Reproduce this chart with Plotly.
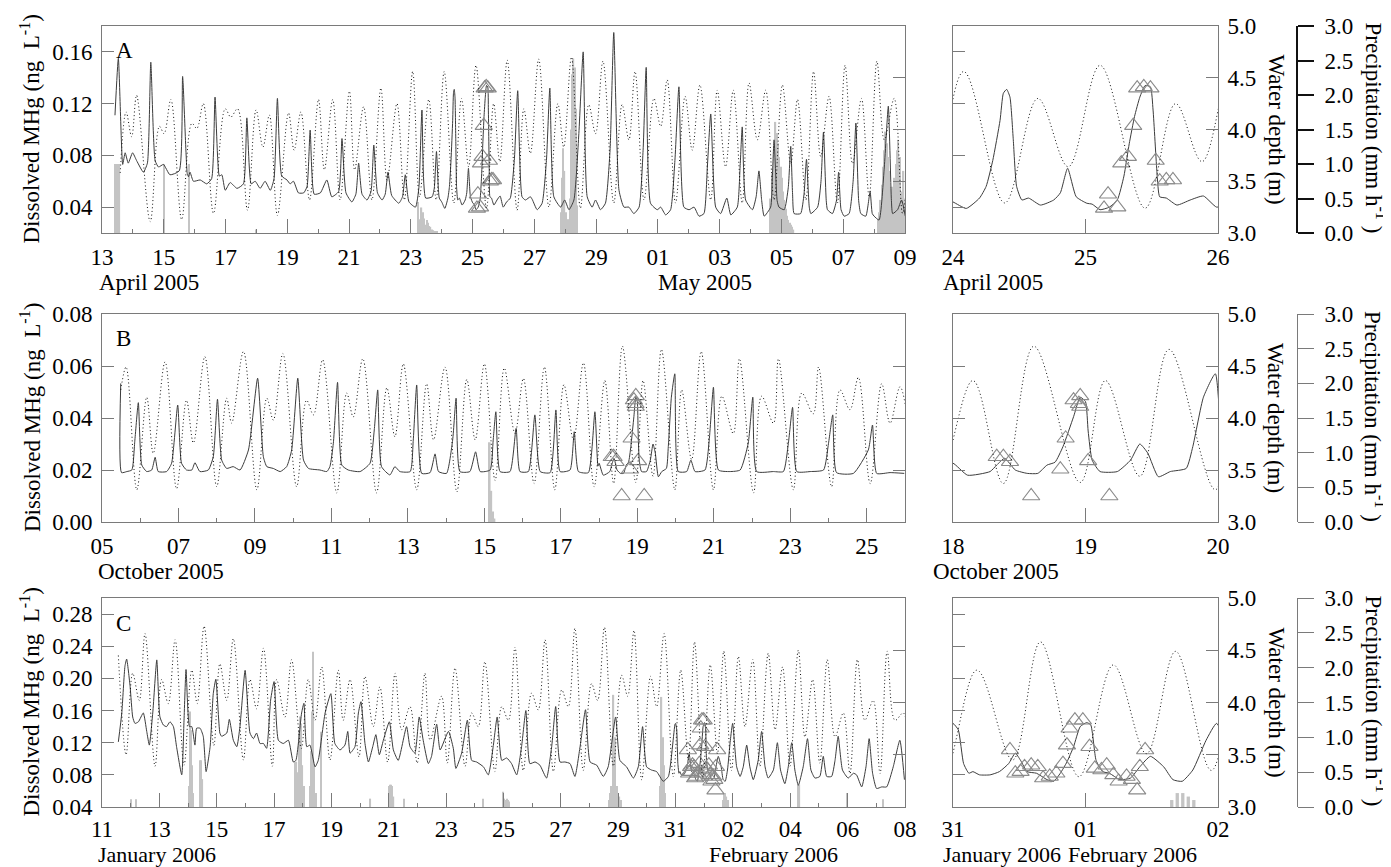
import plotly.graph_objects as go
from datetime import datetime, timedelta

# ================= DATA =================
# Day numbers are counted from the 1st of the first month of each panel
# (A: 1 April 2005, 31 = 1 May; B: 1 October 2005; C: 1 January 2006, 32 = 1 Feb)

# ---- Panel A ----
A_mhg = [(13.42,0.111),(13.53,0.155),(13.67,0.073),(13.75,0.082),(13.85,0.074),(13.99,0.082),(14.12,0.076),
 (14.34,0.067),(14.47,0.074),(14.58,0.152),(14.72,0.076),(14.83,0.071),(14.99,0.073),(15.20,0.065),(15.50,0.068),
 (15.61,0.141),(15.76,0.066),(15.80,0.0635),(15.85,0.067),(15.96,0.060),(16.18,0.061),(16.39,0.058),(16.55,0.062),
 (16.66,0.125),(16.80,0.064),(16.88,0.065),(16.99,0.053),(17.15,0.059),(17.37,0.0545),(17.58,0.058),(17.69,0.109),
 (17.83,0.058),(17.96,0.060),(18.12,0.0545),(18.28,0.060),(18.45,0.053),(18.57,0.062),(18.68,0.124),(18.82,0.064),
 (18.99,0.061),(19.09,0.058),(19.20,0.060),(19.36,0.051),(19.53,0.051),(19.64,0.056),(19.74,0.0996),(19.87,0.050),
 (20.07,0.051),(20.28,0.061),(20.44,0.048),(20.66,0.052),(20.77,0.093),(20.90,0.051),(21.09,0.044),(21.22,0.050),
 (21.31,0.074),(21.42,0.050),(21.58,0.0455),(21.71,0.052),(21.80,0.088),(21.92,0.051),(22.07,0.0455),(22.17,0.050),
 (22.26,0.067),(22.38,0.049),(22.61,0.043),(22.73,0.048),(22.82,0.065),(22.94,0.044),(23.15,0.040),(23.26,0.055),
 (23.36,0.115),(23.48,0.047),(23.69,0.048),(23.76,0.055),(23.83,0.083),(23.92,0.047),(24.00,0.044),(24.10,0.039),
 (24.20,0.047),(24.25,0.056),(24.30,0.076),(24.355,0.107),(24.38,0.128),(24.405,0.131),(24.43,0.125),(24.455,0.092),
 (24.48,0.056),(24.52,0.0455),(24.57,0.047),(24.66,0.0416),(24.76,0.0455),(24.81,0.051),(24.865,0.070),(24.93,0.048),
 (25.01,0.043),(25.05,0.0423),(25.11,0.038),(25.18,0.040),(25.24,0.0455),(25.29,0.064),(25.33,0.089),(25.37,0.110),
 (25.41,0.125),(25.45,0.134),(25.49,0.133),(25.51,0.115),(25.54,0.066),(25.56,0.048),(25.61,0.047),(25.69,0.0416),
 (25.79,0.0455),(25.89,0.0486),(25.99,0.040),(26.10,0.044),(26.22,0.047),(26.35,0.076),(26.46,0.130),(26.60,0.048),
 (26.71,0.0455),(26.87,0.048),(26.93,0.046),(27.09,0.038),(27.25,0.043),(27.39,0.076),(27.50,0.132),(27.63,0.048),
 (27.85,0.040),(27.98,0.0455),(28.12,0.038),(28.28,0.0455),(28.44,0.097),(28.58,0.160),(28.71,0.048),(28.87,0.040),
 (28.98,0.0455),(29.14,0.038),(29.30,0.043),(29.45,0.084),(29.57,0.175),(29.74,0.053),(29.90,0.040),(30.06,0.040),
 (30.22,0.035),(30.39,0.040),(30.52,0.084),(30.62,0.148),(30.76,0.043),(30.98,0.038),(31.09,0.040),(31.25,0.034),
 (31.41,0.038),(31.55,0.076),(31.68,0.133),(31.84,0.040),(32.01,0.038),(32.17,0.040),(32.33,0.033),(32.49,0.035),
 (32.60,0.071),(32.71,0.112),(32.87,0.040),(33.03,0.035),(33.23,0.047),(33.36,0.034),(33.57,0.040),(33.66,0.071),
 (33.73,0.102),(33.84,0.0455),(34.06,0.038),(34.18,0.048),(34.27,0.068),(34.36,0.045),(34.44,0.033),(34.65,0.040),
 (34.70,0.060),(34.76,0.092),(34.86,0.045),(34.92,0.040),(35.09,0.038),(35.22,0.055),(35.30,0.087),(35.36,0.050),
 (35.41,0.035),(35.62,0.035),(35.73,0.050),(35.81,0.077),(35.90,0.040),(35.95,0.035),(36.17,0.040),(36.28,0.060),
 (36.36,0.098),(36.45,0.045),(36.49,0.038),(36.65,0.035),(36.78,0.045),(36.85,0.067),(36.93,0.038),(37.03,0.033),
 (37.19,0.035),(37.32,0.060),(37.41,0.105),(37.50,0.045),(37.57,0.035),(37.73,0.033),(37.87,0.052),(37.94,0.035),
 (38.00,0.033),(38.16,0.030),(38.33,0.071),(38.46,0.118),(38.56,0.045),(38.60,0.035),(38.76,0.038),(38.89,0.0455),
 (39.01,0.033)]
A_tri = [(25.14,0.039),(25.17,0.050),(25.24,0.040),(25.27,0.074),(25.32,0.079),(25.36,0.103),(25.39,0.132),
 (25.44,0.133),(25.49,0.132),(25.53,0.076),(25.56,0.060),(25.61,0.061),(25.66,0.061)]
A_tide = [(13.59,3.58),(13.78,4.17),(13.96,3.93),(14.12,4.33),(14.56,3.11),(14.86,4.03),(15.01,3.96),(15.23,4.29),
 (15.58,3.13),(15.91,4.06),(16.07,4.01),(16.28,4.25),(16.61,3.19),(16.99,4.20),(17.17,4.12),(17.39,4.20),(17.71,3.22),
 (17.99,4.19),(18.21,3.83),(18.42,4.14),(18.68,3.17),(19.04,4.16),(19.22,3.80),(19.44,4.17),(19.72,3.32),(20.01,4.29),
 (20.20,3.61),(20.47,4.29),(20.71,3.32),(21.01,4.37),(21.18,3.61),(21.47,4.22),(21.74,3.32),(22.03,4.40),(22.23,3.51),
 (22.55,4.25),(22.79,3.32),(23.06,4.56),(23.28,3.35),(23.58,4.29),(23.82,3.32),(24.08,4.56),(24.39,3.29),(24.64,4.30),
 (24.87,3.64),(25.11,4.62),(25.45,3.24),(25.68,4.25),(25.88,3.69),(26.12,4.67),(26.44,3.22),(26.66,4.20),(26.87,3.77),
 (27.14,4.68),(27.47,3.25),(27.76,4.25),(27.95,3.83),(28.20,4.70),(28.49,3.24),(28.76,4.24),(28.98,3.96),(29.22,4.66),
 (29.57,3.29),(29.84,4.24),(30.06,3.90),(30.26,4.56),(30.55,3.32),(30.87,4.30),(31.09,4.03),(31.30,4.48),(31.57,3.29),
 (31.88,4.32),(32.11,3.80),(32.36,4.43),(32.71,3.32),(32.92,4.38),(33.19,3.64),(33.44,4.38),(33.73,3.29),(33.95,4.45),
 (34.22,3.90),(34.49,4.38),(34.76,3.32),(35.03,4.43),(35.30,3.67),(35.52,4.29),(35.79,3.32),(36.04,4.56),(36.27,3.74),
 (36.54,4.32),(36.81,3.29),(37.06,4.62),(37.30,3.67),(37.59,4.30),(37.84,3.35),(38.09,4.66),(38.33,3.90),(38.65,4.30),
 (38.92,3.19),(39.10,3.60)]
A_rain_start = [13.42, 14.99, 15.80, 17.96, 23.20, 27.83, 34.62, 38.10]
A_rain_vals = [
 [1.0, 1.0, 1.0, 1.0],
 [1.0],
 [1.0],
 [0.05],
 [0.45, 0.2, 0.15, 0.37, 0.3, 0.21, 0.12, 0.19, 0.15, 0.1, 0.09, 0.05, 0.04, 0.03, 0.02, 0.02],
 [0.3, 0.8, 1.23, 0.9, 0.3, 0.1, 0.2, 0.5, 1.5, 2.3, 2.53, 2.4, 1.8, 0.4],
 [0.5, 0.86, 0.9, 1.2, 1.61, 1.45, 1.3, 1.1, 0.96, 0.8, 0.6, 0.48, 0.35, 0.25, 0.19, 0.15, 0.12, 0.09, 0.05],
 [0.19, 0.3, 0.48, 0.7, 0.96, 1.2, 1.47, 1.3, 1.1, 0.9, 0.67, 0.6, 0.67, 0.8, 1.0, 1.2, 1.35, 1.1, 0.6, 0.24, 0.9, 0.5]]
A_mhg_ticks = [0.04, 0.08, 0.12, 0.16]
A_tick_day = [13, 15, 17, 19, 21, 23, 25, 27, 29, 31, 33, 35, 37, 39]
A_tick_lbl = ['13', '15', '17', '19', '21', '23', '25', '27', '29', '01', '03', '05', '07', '09']
A_ztick_day = [24, 25, 26]
A_ztick_lbl = ['24', '25', '26']

# ---- Panel B ----
B_mhg = [(5.49,0.0533),(5.51,0.019),(5.65,0.0194),(5.78,0.020),(5.86,0.0315),(5.95,0.0459),(6.04,0.0219),
 (6.17,0.0194),(6.30,0.020),(6.39,0.0249),(6.47,0.0194),(6.69,0.0194),(6.82,0.0226),(6.98,0.045),(7.08,0.0226),
 (7.21,0.020),(7.35,0.020),(7.43,0.0228),(7.56,0.0194),(7.78,0.020),(7.91,0.0251),(8.02,0.0472),(8.13,0.0238),
 (8.26,0.0206),(8.43,0.0213),(8.61,0.020),(8.83,0.0277),(9.07,0.0553),(9.22,0.0251),(9.31,0.0213),(9.48,0.0206),
 (9.66,0.0194),(9.83,0.0213),(9.96,0.0277),(10.12,0.0553),(10.27,0.0238),(10.40,0.0206),(10.70,0.020),(10.88,0.0194),
 (10.96,0.0213),(11.05,0.0303),(11.16,0.0537),(11.27,0.0219),(11.44,0.020),(11.75,0.0194),(12.01,0.0226),
 (12.12,0.0354),(12.21,0.0508),(12.31,0.0213),(12.53,0.0181),(12.66,0.0213),(12.79,0.0194),(13.06,0.0194),
 (13.14,0.0315),(13.23,0.0527),(13.36,0.0187),(13.58,0.019),(13.71,0.0262),(13.80,0.0194),(14.01,0.0187),
 (14.17,0.0315),(14.26,0.0476),(14.36,0.0194),(14.62,0.0194),(14.77,0.027),(14.89,0.0194),(15.15,0.020),
 (15.23,0.0315),(15.30,0.0424),(15.41,0.0194),(15.67,0.0194),(15.83,0.036),(15.93,0.0194),(16.15,0.0194),
 (16.32,0.0412),(16.46,0.0194),(16.72,0.019),(16.87,0.0431),(16.98,0.0194),(17.24,0.020),(17.35,0.0347),
 (17.46,0.0194),(17.72,0.019),(17.89,0.0424),(17.97,0.0215),(18.00,0.0226),(18.11,0.018),(18.28,0.0194),
 (18.33,0.0219),(18.39,0.0245),(18.47,0.020),(18.56,0.0187),(18.64,0.0187),(18.71,0.0219),(18.77,0.023),
 (18.83,0.029),(18.91,0.0405),(18.96,0.048),(19.00,0.0463),(19.02,0.035),(19.05,0.0238),(19.11,0.0194),
 (19.24,0.0194),(19.34,0.0238),(19.41,0.030),(19.47,0.0265),(19.55,0.0174),(19.64,0.0194),(19.76,0.0206),
 (19.81,0.029),(19.89,0.048),(19.98,0.057),(20.07,0.0194),(20.29,0.0194),(20.40,0.0238),(20.51,0.0194),
 (20.77,0.020),(20.88,0.0315),(20.99,0.0518),(21.12,0.020),(21.42,0.0194),(21.69,0.020),(21.90,0.0303),
 (22.02,0.048),(22.12,0.0194),(22.56,0.0194),(22.82,0.0194),(22.95,0.0303),(23.06,0.0441),(23.17,0.0194),
 (23.52,0.0194),(23.87,0.020),(24.00,0.0303),(24.11,0.0412),(24.21,0.019),(24.65,0.0187),(25.04,0.0277),
 (25.15,0.0373),(25.26,0.0187),(25.61,0.019),(25.98,0.0187)]
B_tri = [(18.33,0.0251),(18.38,0.0251),(18.43,0.0232),(18.59,0.010),(18.81,0.0203),(18.85,0.0322),
 (18.91,0.0469),(18.96,0.0485),(18.95,0.0455),(18.96,0.0444),(19.02,0.0235),(19.18,0.010)]
B_tide = [(5.49,4.27),(5.63,4.49),(5.91,3.31),(6.17,4.20),(6.34,3.66),(6.65,4.54),(6.95,3.32),(7.21,4.17),
 (7.39,3.76),(7.69,4.59),(8.00,3.34),(8.26,4.19),(8.39,3.95),(8.70,4.64),(9.05,3.31),(9.31,4.19),(9.48,3.98),
 (9.73,4.62),(10.09,3.34),(10.35,4.17),(10.53,4.03),(10.77,4.56),(11.14,3.28),(11.40,4.24),(11.57,4.01),
 (11.82,4.57),(12.18,3.28),(12.45,4.29),(12.66,3.82),(12.88,4.52),(13.23,3.31),(13.49,4.33),(13.67,3.79),
 (13.97,4.49),(14.28,3.29),(14.54,4.37),(14.76,3.79),(15.00,4.52),(15.28,3.40),(15.52,4.48),(15.80,3.85),
 (16.02,4.38),(16.30,3.37),(16.57,4.49),(16.84,3.31),(17.08,4.32),(17.33,3.79),(17.59,4.53),(17.87,3.34),
 (18.15,4.36),(18.38,3.37),(18.61,4.69),(18.96,3.38),(19.15,4.36),(19.41,3.44),(19.63,4.66),(19.98,3.31),
 (20.16,4.27),(20.42,3.60),(20.67,4.64),(20.99,3.31),(21.21,4.21),(21.51,3.85),(21.67,4.57),(22.04,3.28),
 (22.25,4.21),(22.56,3.95),(22.69,4.57),(23.08,3.31),(23.30,4.24),(23.60,4.04),(23.74,4.49),(24.08,3.34),
 (24.30,4.27),(24.56,4.08),(24.78,4.39),(25.09,3.37),(25.39,4.33),(25.61,3.95),(25.87,4.30),(26.10,3.90)]
B_rain_start = [15.12]
B_rain_vals = [[1.15, 0.45, 0.15, 0.05]]
B_mhg_ticks = [0.00, 0.02, 0.04, 0.06, 0.08]
B_tick_day = [5, 7, 9, 11, 13, 15, 17, 19, 21, 23, 25]
B_tick_lbl = ['05', '07', '09', '11', '13', '15', '17', '19', '21', '23', '25']
B_ztick_day = [18, 19, 20]
B_ztick_lbl = ['18', '19', '20']

# ---- Panel C ----
C_mhg = [(11.57,0.121),(11.69,0.157),(11.80,0.215),(11.86,0.224),(11.98,0.190),(12.07,0.152),(12.15,0.144),
 (12.27,0.146),(12.44,0.157),(12.56,0.134),(12.65,0.117),(12.77,0.157),(12.91,0.223),(13.02,0.152),(13.14,0.142),
 (13.25,0.140),(13.37,0.146),(13.49,0.140),(13.60,0.115),(13.78,0.080),(13.86,0.148),(13.93,0.211),(14.05,0.140),
 (14.13,0.140),(14.24,0.117),(14.30,0.138),(14.42,0.138),(14.53,0.128),(14.63,0.084),(14.77,0.115),(14.88,0.181),
 (14.97,0.199),(15.11,0.132),(15.17,0.128),(15.35,0.132),(15.44,0.149),(15.58,0.123),(15.70,0.115),(15.81,0.140),
 (15.99,0.210),(16.16,0.132),(16.28,0.125),(16.39,0.132),(16.51,0.119),(16.63,0.119),(16.74,0.113),(16.88,0.173),
 (17.00,0.196),(17.15,0.123),(17.32,0.119),(17.50,0.123),(17.67,0.096),(17.76,0.098),(17.96,0.157),(18.04,0.169),
 (18.14,0.115),(18.25,0.117),(18.43,0.090),(18.54,0.098),(18.78,0.157),(18.98,0.181),(19.12,0.119),(19.30,0.111),
 (19.47,0.117),(19.57,0.134),(19.65,0.107),(19.82,0.115),(19.94,0.157),(20.03,0.171),(20.17,0.119),(20.29,0.096),
 (20.44,0.115),(20.55,0.130),(20.67,0.105),(20.81,0.123),(21.02,0.146),(21.16,0.111),(21.33,0.098),(21.62,0.140),
 (21.74,0.115),(21.91,0.107),(22.06,0.152),(22.20,0.123),(22.38,0.094),(22.49,0.103),(22.67,0.143),(22.79,0.111),
 (23.08,0.134),(23.25,0.113),(23.34,0.088),(23.54,0.107),(23.74,0.148),(23.89,0.098),(24.06,0.096),(24.30,0.090),
 (24.47,0.080),(24.64,0.115),(24.78,0.152),(24.94,0.098),(25.11,0.101),(25.28,0.094),(25.46,0.080),(25.63,0.115),
 (25.78,0.160),(25.92,0.094),(26.10,0.096),(26.27,0.092),(26.50,0.076),(26.68,0.115),(26.82,0.165),(26.97,0.096),
 (27.14,0.096),(27.32,0.094),(27.49,0.078),(27.67,0.115),(27.86,0.161),(28.02,0.096),(28.25,0.092),(28.48,0.078),
 (28.65,0.090),(28.91,0.152),(29.06,0.098),(29.29,0.090),(29.53,0.076),(29.70,0.090),(29.85,0.140),(29.99,0.090),
 (30.16,0.086),(30.34,0.084),(30.57,0.072),(30.75,0.078),(30.98,0.143),(31.00,0.144),(31.04,0.136),(31.08,0.094),
 (31.12,0.082),(31.15,0.084),(31.20,0.080),(31.28,0.080),(31.35,0.084),(31.42,0.094),(31.47,0.107),(31.51,0.098),
 (31.56,0.084),(31.63,0.082),(31.71,0.074),(31.76,0.072),(31.81,0.082),(31.86,0.096),(31.91,0.115),(31.96,0.140),
 (32.01,0.145),(32.04,0.142),(32.08,0.098),(32.13,0.084),(32.18,0.082),(32.26,0.074),(32.34,0.076),(32.41,0.090),
 (32.49,0.103),(32.59,0.090),(32.66,0.074),(32.73,0.072),(32.81,0.086),(32.91,0.123),(32.99,0.144),(33.13,0.090),
 (33.25,0.078),(33.36,0.090),(33.48,0.117),(33.59,0.090),(33.71,0.074),(33.88,0.098),(34.00,0.134),(34.12,0.090),
 (34.23,0.076),(34.41,0.086),(34.55,0.120),(34.66,0.086),(34.81,0.069),(34.93,0.090),(35.05,0.120),(35.16,0.086),
 (35.28,0.067),(35.45,0.090),(35.60,0.125),(35.72,0.086),(35.86,0.076),(36.03,0.078),(36.15,0.103),(36.27,0.078),
 (36.44,0.078),(36.56,0.098),(36.67,0.128),(36.82,0.086),(37.02,0.076),(37.20,0.082),(37.31,0.080),(37.49,0.065),
 (37.64,0.090),(37.75,0.125),(37.87,0.082),(38.01,0.063),(38.19,0.065),(38.36,0.065),(38.59,0.090),(38.82,0.123),
 (38.98,0.074)]
C_tri = [(31.43,0.111),(31.47,0.082),(31.51,0.084),(31.54,0.090),(31.59,0.092),(31.64,0.090),(31.68,0.076),
 (31.73,0.078),(31.78,0.082),(31.83,0.094),(31.86,0.117),(31.88,0.138),(31.92,0.148),(31.98,0.148),(32.03,0.115),
 (32.07,0.088),(32.12,0.086),(32.16,0.092),(32.21,0.080),(32.25,0.072),(32.31,0.078),(32.35,0.074),(32.39,0.061),
 (32.41,0.090),(32.45,0.111)]
C_tide = [(11.57,4.45),(11.84,3.50),(12.07,4.28),(12.30,4.02),(12.50,4.66),(12.85,3.39),(13.08,4.22),(13.31,3.99),
 (13.55,4.60),(13.86,3.40),(14.13,4.31),(14.32,3.99),(14.56,4.73),(14.90,3.59),(15.11,4.37),(15.35,4.02),
 (15.58,4.61),(15.93,3.45),(16.16,4.22),(16.39,3.94),(16.63,4.52),(16.94,3.39),(17.09,4.22),(17.38,3.86),
 (17.61,4.41),(17.95,3.56),(18.19,4.22),(18.43,3.83),(18.66,4.34),(18.95,3.45),(19.24,4.31),(19.41,3.83),
 (19.65,4.22),(19.96,3.48),(20.17,4.25),(20.46,3.77),(20.69,4.15),(20.96,3.43),(21.22,4.28),(21.45,3.74),
 (21.74,3.96),(21.99,3.42),(22.26,4.28),(22.44,3.64),(22.84,4.06),(23.04,3.42),(23.31,4.33),(23.66,3.39),
 (23.89,3.90),(24.12,3.77),(24.35,4.39),(24.70,3.34),(24.94,3.96),(25.17,3.83),(25.40,4.53),(25.69,3.35),
 (25.98,4.09),(26.21,3.93),(26.45,4.60),(26.74,3.34),(27.03,4.12),(27.26,3.96),(27.49,4.71),(27.78,3.35),
 (28.07,4.18),(28.28,4.02),(28.52,4.72),(28.83,3.39),(29.12,4.26),(29.33,4.06),(29.55,4.69),(29.82,3.26),
 (30.13,4.25),(30.34,3.96),(30.60,4.66),(30.92,3.29),(31.18,4.31),(31.45,3.45),(31.66,4.58),(31.95,3.29),
 (32.21,4.36),(32.46,3.51),(32.68,4.49),(32.95,3.35),(33.19,4.44),(33.42,3.77),(33.69,4.41),(33.94,3.39),
 (34.23,4.47),(34.47,3.74),(34.73,4.34),(34.99,3.39),(35.28,4.50),(35.51,3.67),(35.78,4.22),(36.03,3.42),
 (36.29,4.41),(36.56,3.67),(36.85,3.90),(37.08,3.32),(37.34,4.41),(37.60,3.83),(37.89,4.02),(38.13,3.32),
 (38.38,4.49),(38.65,3.83),(38.94,3.90),(39.10,3.70)]
C_rain_start = [11.98, 12.17, 14.00, 14.40, 17.72, 18.22, 18.62, 20.34, 20.98, 21.50, 24.27, 24.97, 28.65,
                30.45, 32.63, 35.26, 36.97, 38.20]
C_rain_vals = [
 [0.11], [0.11],
 [0.3, 1.37, 1.1, 0.6, 0.2],
 [0.67, 0.67, 0.4],
 [0.65, 0.65, 0.5, 1.1, 1.3, 1.2, 0.6, 0.3],
 [0.3, 0.8, 1.37, 2.23, 0.6, 0.2],
 [1.08],
 [0.12],
 [0.3, 0.32, 0.32, 0.3, 0.15],
 [0.12],
 [0.12],
 [0.22, 0.12, 0.1, 0.12, 0.1, 0.08],
 [0.1, 0.2, 0.3, 0.3, 1.61, 1.0, 0.3, 0.3, 0.2, 0.15, 0.1],
 [0.3, 1.58, 1.0, 0.6, 0.2],
 [0.1, 0.2, 0.2, 0.15, 0.1],
 [0.32, 0.32],
 [0.2],
 [0.11]]
C_mhg_ticks = [0.04, 0.08, 0.12, 0.16, 0.20, 0.24, 0.28]
C_tick_day = [11, 13, 15, 17, 19, 21, 23, 25, 27, 29, 31, 33, 35, 37, 39]
C_tick_lbl = ['11', '13', '15', '17', '19', '21', '23', '25', '27', '29', '31', '02', '04', '06', '08']
C_ztick_day = [31, 32, 33]
C_ztick_lbl = ['31', '01', '02']

depth_ticks = [3.0, 3.5, 4.0, 4.5, 5.0]
rain_ticks = [0.0, 0.5, 1.0, 1.5, 2.0, 2.5, 3.0]

# ================= FIGURE =================
PAGE_W, PAGE_H = 1391, 867
OFF = 8                      # default page margin around the plot div
W, H = PAGE_W - OFF, PAGE_H - OFF
FONT = 'Liberation Serif, Times New Roman, DejaVu Serif, serif'
GREY = '#7a7a7a'
TXT = dict(family=FONT, size=23, color='black')


def fx(p):          # page pixel -> paper fraction
    return (p - OFF) / W


def fy(p):
    return 1 - (p - OFF) / H


def to_dt(base, d):
    return base + timedelta(days=d - 1)


rows = [
    dict(base=datetime(2005, 4, 1), y0=26, y1=233, mhg=A_mhg, tri=A_tri, tide=A_tide,
         rs=A_rain_start, rv=A_rain_vals, mr=[0.02, 0.18], mt=A_mhg_ticks, lr=(13, 39), rr=(24, 26),
         tk=(A_tick_day, A_tick_lbl), ztk=(A_ztick_day, A_ztick_lbl), pcol='#111111', pw=2, so=3),
    dict(base=datetime(2005, 10, 1), y0=314, y1=522, mhg=B_mhg, tri=B_tri, tide=B_tide,
         rs=B_rain_start, rv=B_rain_vals, mr=[0.0, 0.08], mt=B_mhg_ticks, lr=(5, 26), rr=(18, 20),
         tk=(B_tick_day, B_tick_lbl), ztk=(B_ztick_day, B_ztick_lbl), pcol=GREY, pw=1, so=3),
    dict(base=datetime(2006, 1, 1), y0=598, y1=807, mhg=C_mhg, tri=C_tri, tide=C_tide,
         rs=C_rain_start, rv=C_rain_vals, mr=[0.04, 0.30], mt=C_mhg_ticks, lr=(11, 39), rr=(31, 33),
         tk=(C_tick_day, C_tick_lbl), ztk=(C_ztick_day, C_ztick_lbl), pcol=GREY, pw=1, so=1),
]

fig = go.Figure()
lay = {}


def nm(prefix, n):
    return prefix if n == 1 else f'{prefix}{n}'


for r, row in enumerate(rows):
    base = row['base']
    ydom = [fy(row['y1']), fy(row['y0'])]
    for side in (0, 1):
        p = 2 * r + side
        xn, yP, yM, yD = p + 1, 3 * p + 1, 3 * p + 2, 3 * p + 3
        xref = nm('x', xn)
        xdom = [fx(102), fx(905)] if side == 0 else [fx(953), fx(1218)]
        rng = row['lr'] if side == 0 else row['rr']
        tdays, tlbls = row['tk'] if side == 0 else row['ztk']

        # precipitation bars (on the base axis so they sit underneath the lines)
        bx, by = [], []
        for s, vals in zip(row['rs'], row['rv']):
            for i, v in enumerate(vals):
                bx.append(to_dt(base, s) + timedelta(hours=i + 0.5))
                by.append(v)
        fig.add_trace(go.Bar(x=bx, y=by, width=3600000 * (1 if side == 0 else 0.6),
                             marker=dict(color='#c4c4c4', line=dict(width=0)),
                             xaxis=xref, yaxis=nm('y', yP), showlegend=False, hoverinfo='skip'))
        # MHg model line
        fig.add_trace(go.Scatter(x=[to_dt(base, d) for d, _ in row['mhg']], y=[v for _, v in row['mhg']],
                                 mode='lines', line=dict(color='#3c3c3c', width=1, shape='spline', smoothing=0.5),
                                 xaxis=xref, yaxis=nm('y', yM), showlegend=False, hoverinfo='skip'))
        # measured MHg
        fig.add_trace(go.Scatter(x=[to_dt(base, d) for d, _ in row['tri']], y=[v for _, v in row['tri']],
                                 mode='markers',
                                 marker=dict(symbol='triangle-up-open', size=15, color='#8a8a8a',
                                             line=dict(width=1.1, color='#8a8a8a')),
                                 xaxis=xref, yaxis=nm('y', yM), showlegend=False, hoverinfo='skip'))
        # water depth
        fig.add_trace(go.Scatter(x=[to_dt(base, d) for d, _ in row['tide']], y=[v for _, v in row['tide']],
                                 mode='lines', line=dict(color='#111111', width=1, dash='1px,2.6px', shape='spline'),
                                 xaxis=xref, yaxis=nm('y', yD), showlegend=False, hoverinfo='skip'))

        xa = dict(domain=xdom, anchor=nm('y', yP), type='date', automargin=False,
                  range=[to_dt(base, rng[0]), to_dt(base, rng[1])],
                  tickmode='array', tickvals=[to_dt(base, d) for d in tdays], ticktext=tlbls,
                  ticks='inside', ticklen=14, tickcolor=GREY, tickwidth=1,
                  showline=True, mirror=True, linecolor=GREY, linewidth=1,
                  showgrid=False, zeroline=False, tickfont=TXT, ticklabelstandoff=row['so'])
        if side == 0:
            xa['minor'] = dict(tickmode='linear', tick0=to_dt(base, rng[0]), dtick=86400000,
                               ticks='inside', ticklen=4, tickcolor=GREY)
        lay[nm('xaxis', xn)] = xa

        pa = dict(domain=ydom, range=[0, 3], showgrid=False, zeroline=False, fixedrange=True, automargin=False)
        if side == 0:
            pa.update(visible=False, anchor=xref)
        else:
            pa.update(anchor='free', position=fx(1297), side='right', showline=True,
                      linecolor=row['pcol'], linewidth=row['pw'], ticks='outside', ticklen=16,
                      tickwidth=row['pw'], tickcolor=row['pcol'], tickmode='array', tickvals=rain_ticks,
                      ticktext=[f'{v:.1f}' for v in rain_ticks], tickfont=TXT, ticklabelstandoff=6)
        lay[nm('yaxis', yP)] = pa

        lay[nm('yaxis', yM)] = dict(overlaying=nm('y', yP), anchor=xref, side='left', range=row['mr'],
                                    tickmode='array', tickvals=row['mt'], automargin=False,
                                    ticktext=[f'{v:.2f}' for v in row['mt']],
                                    showticklabels=(side == 0), ticks='inside', ticklen=12,
                                    tickcolor=GREY, showline=True, linecolor=GREY, linewidth=1,
                                    showgrid=False, zeroline=False, tickfont=TXT, ticklabelstandoff=4)
        lay[nm('yaxis', yD)] = dict(overlaying=nm('y', yP), anchor=xref, side='right', range=[3, 5],
                                    tickmode='array', tickvals=depth_ticks, automargin=False,
                                    ticktext=[f'{v:.1f}' for v in depth_ticks],
                                    showticklabels=(side == 1), ticks='inside', ticklen=12,
                                    tickcolor=GREY, showline=True, linecolor=GREY, linewidth=1,
                                    showgrid=False, zeroline=False, tickfont=TXT, ticklabelstandoff=4)

# ---- annotations ----
ann = []


def add_text(text, xp, yp, xanchor='left', angle=0, size=23):
    ann.append(dict(text=text, x=fx(xp), y=fy(yp), xref='paper', yref='paper', showarrow=False,
                    xanchor=xanchor, yanchor='middle', textangle=angle,
                    font=dict(family=FONT, size=size, color='black')))


for row, letter in zip(rows, ['A', 'B', 'C']):
    yc = (row['y0'] + row['y1']) / 2
    add_text('Dissolved MHg (ng&#160;&#160;L<sup>-1</sup>)', 30, yc, 'center', -90)
    add_text('Water depth (m)', 1276, yc, 'center', 90)
    add_text('Precipitation (mm h<sup>-1</sup>&#160;)', 1375, yc - 2, 'center', 90)
    add_text(letter, 114, row['y0'] + 25)

add_text('April 2005', 97, 283)
add_text('May 2005', 705, 283, 'center')
add_text('April 2005', 941, 283)
add_text('October 2005', 96, 571)
add_text('October 2005', 931, 571)
add_text('January 2006', 96, 854, size=22)
add_text('February 2006', 773, 854, 'center', size=22)
add_text('January 2006', 941, 854, size=22)
add_text('February 2006', 1066, 854, size=22)

fig.update_layout(width=W, height=H, margin=dict(l=0, r=0, t=0, b=0, pad=0, autoexpand=False),
                  paper_bgcolor='white', plot_bgcolor='white', barmode='overlay', showlegend=False,
                  annotations=ann, font=TXT, **lay)
fig.write_html('out.html')
